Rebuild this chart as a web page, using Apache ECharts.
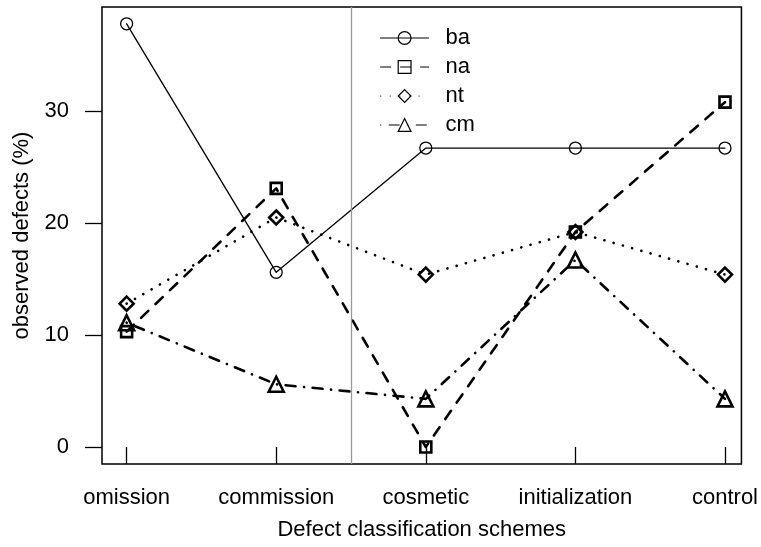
<!DOCTYPE html>
<html>
<head>
<meta charset="utf-8">
<script src="https://cdn.jsdelivr.net/npm/echarts@6/dist/echarts.min.js"></script>
<style>
html,body{margin:0;padding:0;background:#fff;}
#chart{width:761px;height:547px;}
</style>
</head>
<body>
<div id="chart"></div>
<script>
var categories = ['omission', 'commission', 'cosmetic', 'initialization', 'control'];
var ba = [37.8, 15.6, 26.7, 26.7, 26.7];
var na = [10.3, 23.1, 0, 19.2, 30.8];
var nt = [12.8, 20.5, 15.4, 19.2, 15.4];
var cm = [11.1, 5.6, 4.3, 16.7, 4.3];
var yTicks = [0, 10, 20, 30];
var xTicks = [1, 2, 3, 4, 5];
var separatorX = 2.5;

function pts(arr) { return arr.map(function (v, i) { return [i + 1, v]; }); }

var FONT = 'Liberation Sans, Arial, Helvetica, sans-serif';
var chart = echarts.init(document.getElementById('chart'), null, {renderer: 'canvas'});

function mkSeries(name, data, symbol, size, lw, dash, msw) {
  return {
    name: name,
    type: 'line',
    data: pts(data),
    symbol: symbol,
    symbolSize: size,
    showSymbol: true,
    z: 3,
    lineStyle: {color: '#000', width: lw, type: dash, cap: 'round', join: 'round'},
    itemStyle: {color: 'rgba(0,0,0,0)', borderColor: '#000', borderWidth: msw},
    emphasis: {disabled: true},
    animation: false
  };
}

var series = [
  mkSeries('ba', ba, 'circle', 12, 1.3, 'solid', 1.3),
  mkSeries('na', na, 'rect', 11, 2.6, [10, 10], 2.6),
  mkSeries('nt', nt, 'diamond', 14, 2.6, [0.1, 9.5], 2.6),
  mkSeries('cm', cm, 'triangle', 15, 2.6, [0.1, 8.5, 10, 8.5], 2.6)
];
series[0].markLine = {
  silent: true,
  symbol: 'none',
  label: {show: false},
  lineStyle: {color: '#999', width: 1.3, type: 'solid'},
  data: [{xAxis: separatorX}],
  animation: false
};

chart.setOption({
  backgroundColor: '#fff',
  animation: false,
  grid: {left: 102, right: 10, top: 7, bottom: 83, show: true, borderColor: '#000', borderWidth: 1.5, backgroundColor: 'transparent'},
  legend: {
    left: 375, top: 22, orient: 'vertical',
    itemWidth: 48, itemHeight: 16, itemGap: 7,
    textStyle: {fontFamily: FONT, fontSize: 22, color: '#000', padding: [0, 0, 0, 12]},
    lineStyle: {width: 1.2},
    itemStyle: {borderWidth: 1.2},
    data: ['ba', 'na', 'nt', 'cm'],
    selectedMode: false
  },
  xAxis: {
    type: 'value', min: 0.8354, max: 5.11,
    splitLine: {show: false},
    axisLine: {show: false},
    axisTick: {show: true, customValues: xTicks, length: 17, inside: false, lineStyle: {color: '#000', width: 1.3}},
    axisLabel: {customValues: xTicks, margin: 23, fontFamily: FONT, fontSize: 22, color: '#000',
      formatter: function (v) { return categories[Math.round(v) - 1]; }},
    name: 'Defect classification schemes', nameLocation: 'middle', nameGap: 55,
    nameTextStyle: {fontFamily: FONT, fontSize: 22, color: '#000'}
  },
  yAxis: {
    type: 'value', min: -1.52, max: 39.3,
    splitLine: {show: false},
    axisLine: {show: false},
    axisTick: {show: true, customValues: yTicks, length: 17, inside: false, lineStyle: {color: '#000', width: 1.3}},
    axisLabel: {customValues: yTicks, margin: 33, fontFamily: FONT, fontSize: 22, color: '#000'},
    name: 'observed defects (%)', nameLocation: 'middle', nameGap: 69, nameRotate: 90,
    nameTextStyle: {fontFamily: FONT, fontSize: 22, color: '#000'}
  },
  series: series
});
</script>
</body>
</html>
